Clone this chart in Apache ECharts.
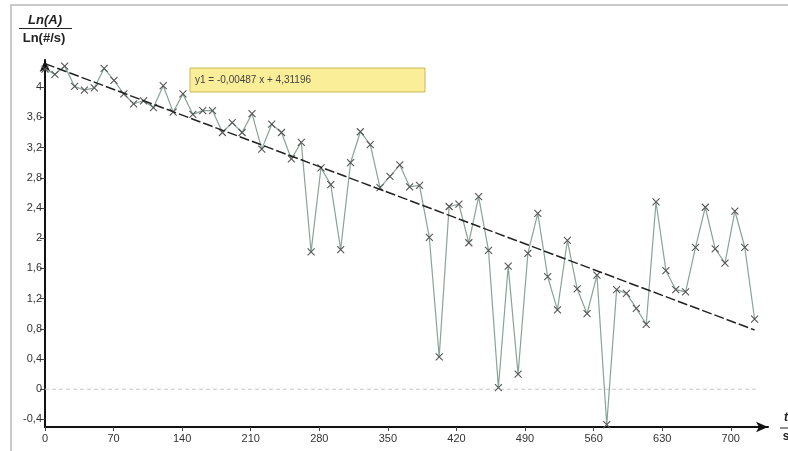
<!DOCTYPE html>
<html>
<head>
<meta charset="utf-8">
<script src="https://cdn.jsdelivr.net/npm/echarts@6/dist/echarts.min.js"></script>
<style>html,body{margin:0;padding:0;background:#fff}#c{width:788px;height:451px}</style>
</head>
<body>
<div id="c"></div>
<script>
// time in seconds
const times = [0,10.1,20.1,30.2,40.2,50.3,60.4,70.4,80.5,90.5,100.6,110.7,120.7,130.8,140.8,150.9,161.0,171.0,181.1,191.1,201.2,211.3,221.3,231.4,241.4,251.5,261.6,271.6,281.7,291.7,301.8,311.9,321.9,332.0,342.0,352.1,362.2,372.2,382.3,392.3,402.4,412.5,422.5,432.6,442.6,452.7,462.8,472.8,482.9,492.9,503.0,513.1,523.1,533.2,543.2,553.3,563.4,573.4,583.5,593.5,603.6,613.7,623.7,633.8,643.8,653.9,664.0,674.0,684.1,694.1,704.2,714.3,724.3];
// Ln(A)
const lnA = [4.24,4.17,4.28,4.01,3.96,3.99,4.25,4.09,3.91,3.78,3.82,3.73,4.02,3.67,3.91,3.64,3.69,3.69,3.40,3.53,3.40,3.65,3.18,3.51,3.40,3.05,3.27,1.82,2.93,2.71,1.85,3.00,3.41,3.24,2.67,2.82,2.97,2.68,2.70,2.01,0.43,2.42,2.45,1.94,2.55,1.84,0.02,1.63,0.20,1.80,2.33,1.49,1.05,1.97,1.33,1.00,1.51,-0.47,1.32,1.27,1.07,0.86,2.48,1.57,1.32,1.29,1.88,2.41,1.86,1.67,2.36,1.88,0.93];
// regression shown in the box
const trendSlope = -0.00487;
const trendIntercept = 4.31196;
const trendText = 'y1 = -0,00487 x + 4,31196';
const xTicks = [0,70,140,210,280,350,420,490,560,630,700];
const yTicks = [-0.4,0,0.4,0.8,1.2,1.6,2,2.4,2.8,3.2,3.6,4];
const zeroLineX = [0,727];

const pts = times.map((t,i)=>[t,lnA[i]]);
const tStart = times[0], tEnd = times[times.length-1];
const trend = [[tStart, trendIntercept + trendSlope*tStart],[tEnd, trendIntercept + trendSlope*tEnd]];

const chart = echarts.init(document.getElementById('c'), null, {renderer:'canvas'});
const font = 'Liberation Sans, Arial, sans-serif';
chart.setOption({
  backgroundColor:'#fff',
  animation:false,
  grid:{left:45,right:20,top:60,bottom:24},
  xAxis:{
    type:'value', min:0, max:738,
    axisLine:{show:true,onZero:false,lineStyle:{color:'#111',width:2},symbol:['none','arrow'],symbolSize:[8,12]},
    axisTick:{show:true,length:4,lineStyle:{color:'#444'},customValues:xTicks},
    axisLabel:{customValues:xTicks,color:'#333',fontSize:11,fontFamily:font,margin:6},
    splitLine:{show:false}
  },
  yAxis:{
    type:'value', min:-0.5, max:4.36,
    axisLine:{show:true,onZero:false,lineStyle:{color:'#111',width:2},symbol:['none','arrow'],symbolSize:[8,12]},
    axisTick:{show:true,length:5,lineStyle:{color:'#444'},customValues:yTicks},
    axisLabel:{customValues:yTicks,color:'#333',fontSize:11,fontFamily:font,margin:3,
      formatter:v=>String(Math.round(v*10)/10).replace('.',',')},
    splitLine:{show:false}
  },
  series:[
    {type:'line',data:zeroLineX.map(x=>[x,0]),symbol:'none',silent:true,
      lineStyle:{color:'#c8c8c8',width:1,type:[4,3]},z:1},
    {type:'line',data:pts,symbol:'path://M0,0L10,10M10,0L0,10',symbolSize:7,
      lineStyle:{color:'#87a496',width:1.2},
      itemStyle:{color:'none',borderColor:'#555',borderWidth:1.1},z:3},
    {type:'line',data:trend,symbol:'none',
      lineStyle:{color:'#222',width:1.5,type:[10,3]},z:4}
  ],
  graphic:[
    {type:'rect',shape:{x:11,y:5,width:800,height:460},style:{fill:'none',stroke:'#b8b8b8',lineWidth:1.5},z:0,silent:true},
    {type:'text',style:{text:'Ln(A)',x:45,y:20,align:'center',verticalAlign:'middle',font:'italic bold 13px '+font,fill:'#222'}},
    {type:'line',shape:{x1:19,y1:28.5,x2:72,y2:28.5},style:{stroke:'#222',lineWidth:1.2}},
    {type:'text',style:{text:'Ln(#/s)',x:44,y:38,align:'center',verticalAlign:'middle',font:'bold 13px '+font,fill:'#222'}},
    {type:'text',style:{text:'t',x:786,y:418,align:'center',verticalAlign:'middle',font:'italic bold 12px '+font,fill:'#222'}},
    {type:'line',shape:{x1:780,y1:428,x2:792,y2:428},style:{stroke:'#222',lineWidth:1}},
    {type:'text',style:{text:'s',x:786,y:437,align:'center',verticalAlign:'middle',font:'bold 12px '+font,fill:'#222'}},
    {type:'rect',shape:{x:190,y:68,width:235,height:24},style:{fill:'#fbee98',stroke:'#c9b95a',lineWidth:1},z:10},
    {type:'text',style:{text:trendText,x:195,y:80,verticalAlign:'middle',font:'10px '+font,fill:'#444'},z:11}
  ]
});
</script>
</body>
</html>
